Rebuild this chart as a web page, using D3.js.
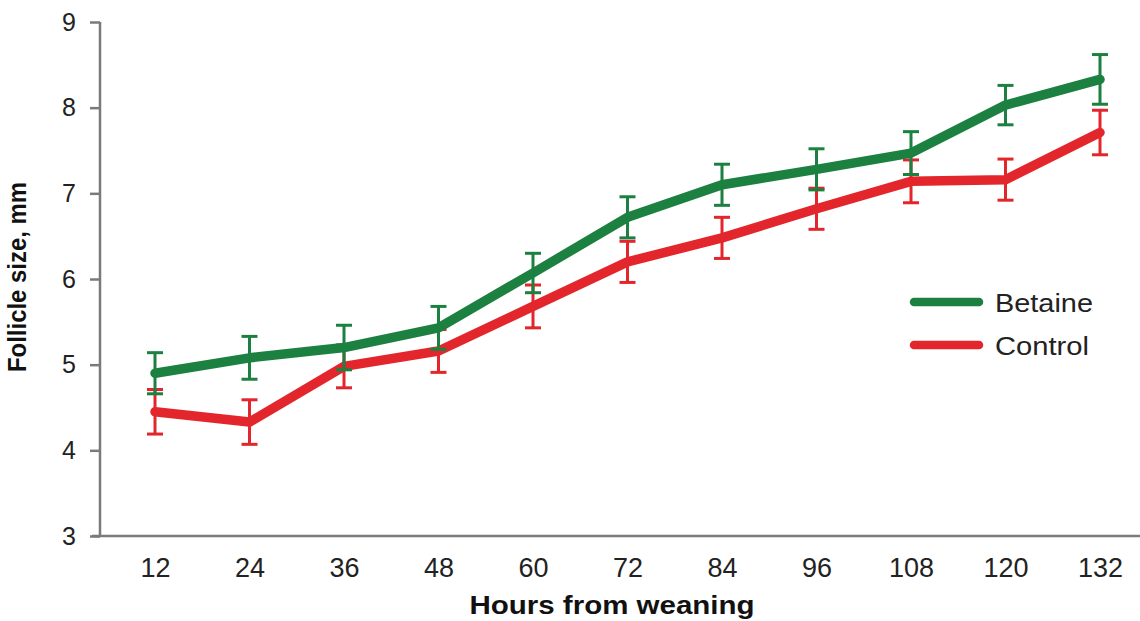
<!DOCTYPE html>
<html><head><meta charset="utf-8">
<script src="https://cdn.jsdelivr.net/npm/d3@7"></script>
<style>body{margin:0;background:#fff}svg{display:block}</style>
</head><body>
<svg id="c" width="1140" height="621"></svg>
<script>
const hours = ["12","24","36","48","60","72","84","96","108","120","132"];
const betaine = [4.90,5.08,5.20,5.43,6.07,6.72,7.10,7.28,7.47,8.03,8.33];
const betaineErr = [0.24,0.25,0.26,0.25,0.23,0.24,0.24,0.24,0.25,0.23,0.29];
const control = [4.45,4.33,4.98,5.16,5.68,6.20,6.48,6.82,7.14,7.16,7.71];
const controlErr = [0.26,0.26,0.25,0.25,0.25,0.24,0.24,0.24,0.25,0.24,0.26];
const yTicks = [3,4,5,6,7,8,9];

const svg = d3.select("#c");
const x = d3.scalePoint().domain(hours).range([155,1100]);
const y = d3.scaleLinear().domain([3,9]).range([536,22]);
const axisColor = "#7a7a7a";
const font = "Liberation Sans, Arial, sans-serif";

// y axis
const ya = svg.append("g").attr("transform","translate(100,0)")
  .call(d3.axisLeft(y).tickValues(yTicks).tickSize(10).tickPadding(14).tickFormat(d3.format("d")));
ya.select(".domain").attr("stroke",axisColor).attr("stroke-width",2.5).attr("d","M0,22V536");
ya.selectAll(".tick line").attr("stroke",axisColor).attr("stroke-width",2.5);
ya.selectAll(".tick text").attr("font-family",font).attr("font-size",25).attr("fill","#222");

// x axis
const xa = svg.append("g").attr("transform","translate(0,536)")
  .call(d3.axisBottom(x).tickSize(0).tickPadding(22));
xa.select(".domain").attr("stroke",axisColor).attr("stroke-width",2.5).attr("d","M92,0H1140");
xa.selectAll(".tick text").attr("font-family",font).attr("font-size",27).attr("fill","#222");

// axis titles
svg.append("text").attr("x",612).attr("y",614).attr("text-anchor","middle")
  .attr("font-family",font).attr("font-weight","bold")
  .attr("font-size",25).attr("fill","#111")
  .attr("textLength",285).attr("lengthAdjust","spacingAndGlyphs").text("Hours from weaning");
svg.append("text").attr("transform","translate(26,277) rotate(-90)").attr("text-anchor","middle")
  .attr("font-family",font).attr("font-weight","bold")
  .attr("font-size",26).attr("fill","#111")
  .attr("textLength",190).attr("lengthAdjust","spacingAndGlyphs").text("Follicle size, mm");

const series = [
  {name:"Betaine", vals:betaine, err:betaineErr, color:"#1c8040"},
  {name:"Control", vals:control, err:controlErr, color:"#e3262b"}
];
const line = d3.line().x((d,i)=>x(hours[i])).y(d=>y(d));

// draw control first, then betaine on top
[series[1], series[0]].forEach(s=>{
  const g = svg.append("g");
  g.append("path").attr("d",line(s.vals)).attr("fill","none").attr("stroke",s.color)
    .attr("stroke-width",9.5).attr("stroke-linejoin","round").attr("stroke-linecap","round");
  const eb = g.selectAll(".eb").data(s.vals).join("g");
  eb.append("line").attr("x1",(d,i)=>x(hours[i])).attr("x2",(d,i)=>x(hours[i]))
    .attr("y1",(d,i)=>y(d+s.err[i])).attr("y2",(d,i)=>y(d-s.err[i]))
    .attr("stroke",s.color).attr("stroke-width",3);
  [1,-1].forEach(sg=>{
    eb.append("line").attr("x1",(d,i)=>x(hours[i])-8).attr("x2",(d,i)=>x(hours[i])+8)
      .attr("y1",(d,i)=>y(d+sg*s.err[i])).attr("y2",(d,i)=>y(d+sg*s.err[i]))
      .attr("stroke",s.color).attr("stroke-width",3);
  });
});

// legend
series.forEach((s,i)=>{
  const ly = 302 + i*43;
  svg.append("line").attr("x1",914).attr("x2",979).attr("y1",ly).attr("y2",ly)
    .attr("stroke",s.color).attr("stroke-width",8.5).attr("stroke-linecap","round");
  svg.append("text").attr("x",995).attr("y",ly+10).attr("font-family",font)
    .attr("font-size",25).attr("fill","#222")
    .attr("textLength", i===0 ? 98 : 94).attr("lengthAdjust","spacingAndGlyphs").text(s.name);
});
</script>
</body></html>
